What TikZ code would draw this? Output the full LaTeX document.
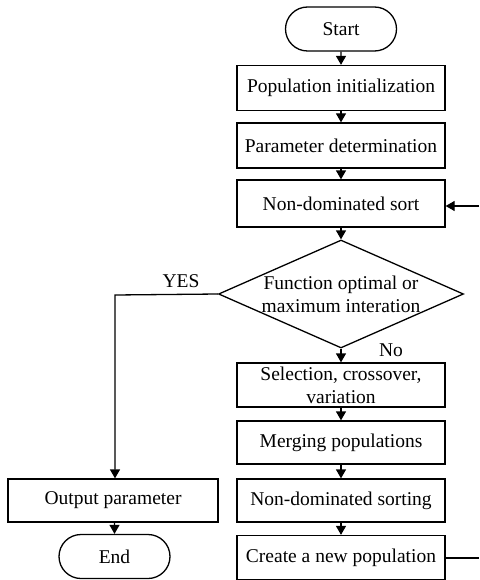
\documentclass[tikz,border=0pt]{standalone}
\usepackage{fontspec}
\setmainfont{Liberation Serif}
\usepackage{tikz}
\usetikzlibrary{positioning, arrows.meta, shapes.geometric, shapes.misc}

\tikzset{
  flowbox/.style={draw, line width=1.3pt, minimum width=208pt, minimum height=45pt,
    inner sep=0pt, align=center},
  terminal/.style={draw, line width=1.3pt, rounded rectangle, minimum width=111pt,
    minimum height=44pt, inner sep=0pt},
  decision/.style={draw, line width=1.3pt, diamond, minimum width=245pt,
    minimum height=108pt, inner sep=0pt},
  flowarrow/.style={line width=1.3pt, -{Triangle[length=9pt, width=10pt]}}
}

\begin{document}
\begin{tikzpicture}[x=1pt, y=-1pt, font=\fontsize{19.5}{23}\selectfont]
  \useasboundingbox (0,0) rectangle (479,580);

  % main column
  \node[terminal] (start) at (341,29) {Start};
  \node[flowbox] (init) at (341,88) {Population initialization};
  \node[flowbox] (param) at (341,145.5) {Parameter determination};
  \node[flowbox, minimum height=47pt] (sort) at (341,203.5) {Non-dominated sort};
  \node[decision, label={[align=center]center:{Function optimal or\\maximum interation}}]
    (decide) at (341,294) {};
  \node[flowbox, minimum height=44pt] (select) at (341,385) {Selection, crossover,\\variation};
  \node[flowbox, minimum height=43pt] (merge) at (341,442.5) {Merging populations};
  \node[flowbox, minimum height=43pt] (ndsort) at (341,500.5) {Non-dominated sorting};
  \node[flowbox, minimum height=44pt] (create) at (341,557.5) {Create a new population};

  % exit branch
  \node[flowbox, minimum width=210pt, minimum height=43pt] (output) at (113,500.5) {Output parameter};
  \node[terminal] (end) at (114.5,556.5) {End};

  \coordinate (loopin) at (479,206);
  \coordinate (loopout) at (479,558);
  \coordinate (yescorner) at (115,295);

  \draw[flowarrow] (start) -- (init);
  \draw[flowarrow] (init) -- (param);
  \draw[flowarrow] (param) -- (sort);
  \draw[flowarrow] (sort) -- (decide);
  \draw[flowarrow] (decide) -- (select);
  \draw[flowarrow] (select) -- (merge);
  \draw[flowarrow] (merge) -- (ndsort);
  \draw[flowarrow] (ndsort) -- (create);
  \draw[flowarrow] (decide.west) -- (yescorner) -- (output.north -| yescorner);
  \draw[flowarrow] (output.south -| end) -- (end);
  \draw[flowarrow] (loopin) -- (loopin -| sort.east);
  \draw[line width=1.3pt] (create.east |- loopout) -- (loopout);

  \node (yes) at (181,281) {YES};
  \node (no) at (391,350) {No};
\end{tikzpicture}
\end{document}
